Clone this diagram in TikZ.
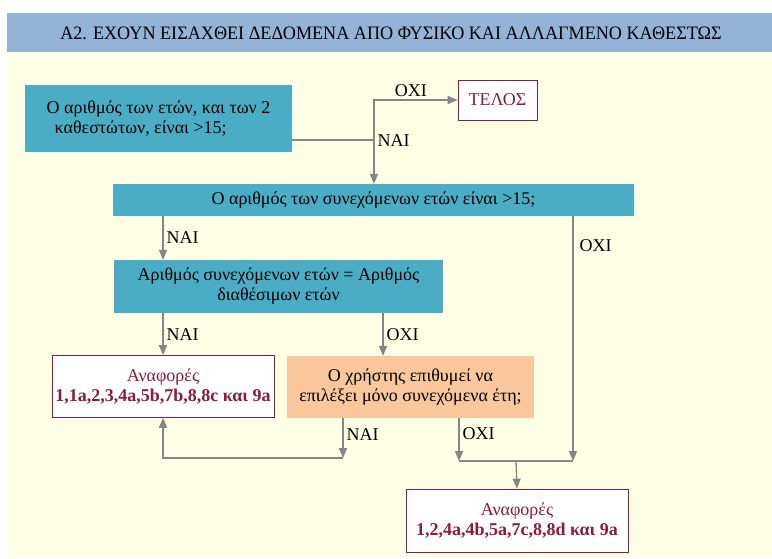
\documentclass[tikz,border=0pt]{standalone}
\usepackage{fontspec}
\setmainfont{Liberation Serif}
\usepackage{tikz}
\usetikzlibrary{arrows,positioning}
\definecolor{hdrblue}{HTML}{95B3D7}
\definecolor{bgyellow}{HTML}{FFFFE6}
\definecolor{qblue}{HTML}{4BACC6}
\definecolor{qpeach}{HTML}{FAC69C}
\definecolor{refred}{HTML}{8B1A3C}
\definecolor{arrgrey}{HTML}{858585}
\tikzset{qbox/.style={fill=qblue,text=black,inner sep=0pt,align=center}}
\tikzset{refbox/.style={draw=refred,fill=white,text=refred,inner sep=0pt,align=center,line width=0.8pt}}
\tikzset{arr/.style={->,>=triangle 45,draw=arrgrey,line width=1.3pt}}
\tikzset{plain/.style={draw=arrgrey,line width=1.3pt}}
\tikzset{lbl/.style={text=black,inner sep=3pt}}

\begin{document}
\begin{tikzpicture}[x=1pt,y=-1pt,font=\fontsize{18}{20}\selectfont]
\useasboundingbox (0,0) rectangle (772,558);
% \draw[help lines] (0,0) grid (772,558);
\fill[white] (0,0) rectangle (772,558);
\fill[bgyellow] (7,52) rectangle (772,558);
\fill[hdrblue] (7,13) rectangle (772,52);
\node (title) at (391,33) {\scalebox{0.955}[1]{\fontsize{19}{21}\selectfont Α2. ΕΧΟΥΝ ΕΙΣΑΧΘΕΙ ΔΕΔΟΜΕΝΑ ΑΠΟ ΦΥΣΙΚΟ ΚΑΙ ΑΛΛΑΓΜΕΝΟ ΚΑΘΕΣΤΩΣ}};
%
\node (q1) [qbox,minimum width=267pt,minimum height=67pt,align=left] at (158.5,118.5) {Ο αριθμός των ετών, και των 2\\\hspace*{8pt}καθεστώτων, είναι >15;};
\node (end) [refbox,minimum width=79pt,minimum height=40pt] at (497.5,100) {ΤΕΛΟΣ};
\node (q2) [qbox,minimum width=521pt,minimum height=32pt] at (373.5,200) {Ο αριθμός των συνεχόμενων ετών είναι >15;};
\node (q3) [qbox,minimum width=329pt,minimum height=53pt] at (278.5,286.5) {Αριθμός συνεχόμενων ετών = Αριθμός\\διαθέσιμων ετών};
\node (r1) [refbox,minimum width=222pt,minimum height=62pt] at (163,386.5) {Αναφορές\\\textbf{1,1a,2,3,4a,5b,7b,8,8c και 9a}};
\node (q4) [qbox,fill=qpeach,minimum width=247pt,minimum height=62pt] at (410.5,387) {Ο χρήστης επιθυμεί να\\επιλέξει μόνο συνεχόμενα έτη;};
\node (r2) [refbox,minimum width=222pt,minimum height=63pt] at (517,520.5) {Αναφορές\\\textbf{1,2,4a,4b,5a,7c,8,8d και 9a}};
%
\coordinate (j1) at (374,140);
\coordinate (oxi3) at (383,334);
\coordinate (n1) at (343,458);
\coordinate (ml) at (459,461);
\coordinate (mr) at (573,461);
\coordinate (m) at (516,461);
%
\path[plain] (q1.east |- j1) edge (j1);
\draw[arr] (j1) |- node[lbl,pos=0.72,above] {ΟΧΙ} (end.west);
\draw[arr] (j1) -- node[lbl,pos=0.02,right] {ΝΑΙ} (j1 |- q2.north);
\draw[arr] (q2.south -| r1) -- node[lbl,right] {ΝΑΙ} (q3.north -| r1);
\draw[arr] (q2.south -| mr) -- node[lbl,pos=0.12,right,xshift=3pt] {ΟΧΙ} (mr);
\draw[arr] (q3.south -| r1) -- node[lbl,right] {ΝΑΙ} (r1.north);
\draw[arr] (q3.south -| oxi3) -- node[lbl,right] {ΟΧΙ} (q4.north -| oxi3);
\draw[arr] (q4.south -| n1) -- node[lbl,pos=0.4,right] {ΝΑΙ} (n1);
\draw[arr] (n1) -| (r1.south);
\draw[arr] (q4.south -| ml) -- node[lbl,pos=0.35,right] {ΟΧΙ} (ml);
\path[plain] (ml) edge (mr);
\draw[arr] (m) -- (r2.north);
\end{tikzpicture}
\end{document}
